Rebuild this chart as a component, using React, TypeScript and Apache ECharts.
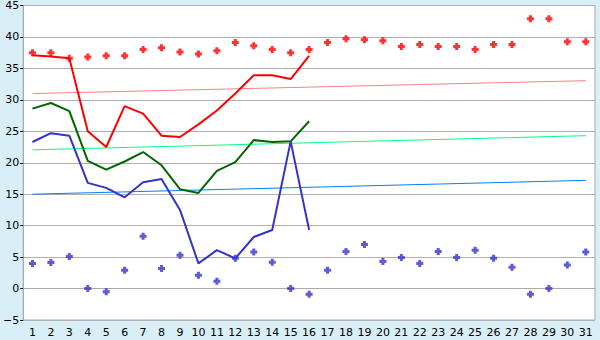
import React, { useEffect, useRef } from "react";
import * as echarts from "echarts";

const days = Array.from({ length: 31 }, (_, i) => String(i + 1));
const yTicks = { min: -5, max: 45, step: 5 };

const redLine = [37.1, 36.9, 36.6, 25.0, 22.5, 29.0, 27.8, 24.3, 24.1, 26.1, 28.3, 31.0, 33.9, 33.9, 33.3, 37.0];
const greenLine = [28.6, 29.5, 28.2, 20.3, 18.9, 20.2, 21.7, 19.6, 15.8, 15.2, 18.7, 20.1, 23.6, 23.3, 23.4, 26.6];
const blueLine = [23.3, 24.7, 24.3, 16.8, 16.0, 14.5, 16.9, 17.4, 12.5, 4.0, 6.1, 4.8, 8.2, 9.3, 23.4, 9.3];

const redPoints = [37.5, 37.5, 36.6, 36.8, 37.0, 37.0, 38.0, 38.3, 37.6, 37.3, 37.8, 39.1, 38.6, 38.0, 37.5, 38.0,
  39.1, 39.7, 39.55, 39.4, 38.5, 38.8, 38.5, 38.5, 38.0, 38.8, 38.8, 42.9, 42.9, 39.25, 39.25];
const bluePoints = [4.0, 4.15, 5.1, 0.0, -0.5, 2.9, 8.3, 3.2, 5.3, 2.1, 1.15, 4.8, 5.8, 4.2, 0.0, -0.9,
  2.9, 5.9, 7.0, 4.3, 4.95, 4.0, 5.9, 4.95, 6.1, 4.8, 3.4, -0.9, 0.0, 3.75, 5.8];

const redTrend = [31.0, 33.05];
const greenTrend = [22.05, 24.3];
const blueTrend = [15.0, 17.2];

const plusSymbol = "path://M2,0H5V2H7V5H5V7H2V5H0V2H2Z";

export default function App() {
  const ref = useRef<HTMLDivElement>(null);
  useEffect(() => {
    document.body.style.margin = "0";
    const chart = echarts.init(ref.current!, null, { renderer: "svg" });
    const last = days.length - 1;
    const trend = (vals: number[], color: string) => ({
      type: "line",
      data: [[0, vals[0]], [last, vals[1]]],
      symbol: "none",
      lineStyle: { color, width: 1 },
      z: 1,
    });
    const line = (vals: number[], color: string) => ({
      type: "line",
      data: vals,
      symbol: "none",
      lineStyle: { color, width: 2 },
      z: 3,
    });
    const scatter = (vals: number[], color: string) => ({
      type: "scatter",
      data: vals,
      symbol: plusSymbol,
      symbolSize: 7,
      itemStyle: { color },
      z: 4,
    });
    chart.setOption({
      animation: false,
      backgroundColor: "#d9eff7",
      grid: {
        left: 20, right: 5, top: 5, bottom: 20,
        show: true, backgroundColor: "#ffffff", borderColor: "#aaaaaa", borderWidth: 1,
      },
      xAxis: {
        type: "category",
        data: days,
        boundaryGap: true,
        axisLine: { lineStyle: { color: "#aaaaaa" } },
        axisTick: { alignWithLabel: true, length: 5, lineStyle: { color: "#000000" } },
        axisLabel: { color: "#000000", fontFamily: "DejaVu Sans", fontSize: 11, margin: 7, interval: 0 },
        splitLine: { show: false },
      },
      yAxis: {
        type: "value",
        min: yTicks.min,
        max: yTicks.max,
        interval: yTicks.step,
        axisLine: { show: true, lineStyle: { color: "#aaaaaa" } },
        axisTick: { show: true, length: 3, lineStyle: { color: "#000000" } },
        axisLabel: {
          color: "#000000", fontFamily: "DejaVu Sans", fontSize: 11, margin: 4,
          formatter: (v: number) => String(v).replace("-", "\u2212"),
        },
        splitLine: { lineStyle: { color: "#b0b0b0", width: 1 } },
      },
      series: [
        trend(redTrend, "#ff8080"),
        trend(greenTrend, "#00ff80"),
        trend(blueTrend, "#0080ff"),
        line(redLine, "#ff0000"),
        line(greenLine, "#006600"),
        line(blueLine, "#3333cc"),
        scatter(redPoints, "#ff0000"),
        scatter(bluePoints, "#3333cc"),
      ],
    });
    return () => chart.dispose();
  }, []);
  return <div ref={ref} style={{ width: 600, height: 340 }} />;
}
